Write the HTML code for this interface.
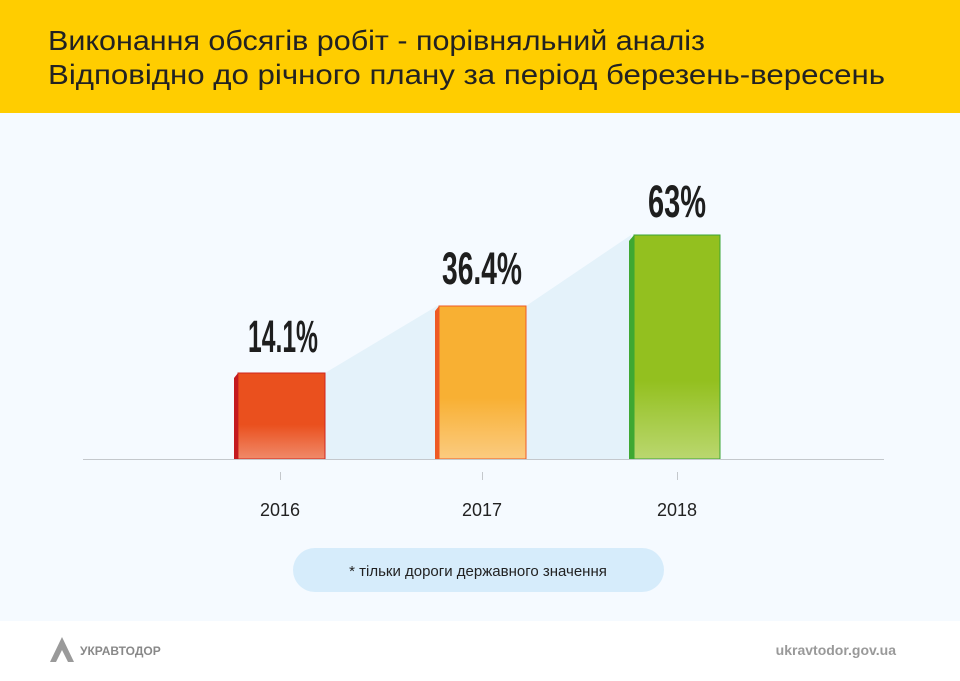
<!DOCTYPE html>
<html><head><meta charset="utf-8"><style>
html,body{margin:0;padding:0;width:960px;height:681px;overflow:hidden;background:#fff}
svg{display:block}
text{font-family:"Liberation Sans",sans-serif}
</style></head><body>
<svg width="960" height="681" viewBox="0 0 960 681" xmlns="http://www.w3.org/2000/svg">
<defs>
<linearGradient id="g1" x1="0" y1="0" x2="0" y2="1"><stop offset="0.6" stop-color="#ea501e"/><stop offset="1" stop-color="#f08a6a"/></linearGradient>
<linearGradient id="g2" x1="0" y1="0" x2="0" y2="1"><stop offset="0.6" stop-color="#f8b033"/><stop offset="1" stop-color="#fbcb80"/></linearGradient>
<linearGradient id="g3" x1="0" y1="0" x2="0" y2="1"><stop offset="0.65" stop-color="#93c01f"/><stop offset="1" stop-color="#bad76f"/></linearGradient>
</defs>
<rect x="0" y="0" width="960" height="113" fill="#ffcd00"/>
<rect x="0" y="113" width="960" height="508" fill="#f5faff"/>
<text x="48" y="50" font-size="28" fill="#222" textLength="657" lengthAdjust="spacingAndGlyphs">Виконання обсягів робіт - порівняльний аналіз</text>
<text x="48" y="84" font-size="28" fill="#222" textLength="837" lengthAdjust="spacingAndGlyphs">Відповідно до річного плану за період березень-вересень</text>
<polygon points="325,373 437,306 526,306 631,235 631,459 325,459" fill="#e4f2fa"/>
<rect x="238" y="373" width="87" height="86" fill="url(#g1)" stroke="#d0251e" stroke-width="1"/>
<polygon points="234,378 238,373 238,459 234,459" fill="#c41a1f"/>
<rect x="439" y="306" width="87" height="153" fill="url(#g2)" stroke="#ef5a24" stroke-width="1"/>
<polygon points="435,311 439,306 439,459 435,459" fill="#ee5a24"/>
<rect x="634" y="235" width="86" height="224" fill="url(#g3)" stroke="#3aa535" stroke-width="1"/>
<polygon points="629,241 634,235 634,459 629,459" fill="#3ea832"/>
<line x1="83" y1="459.5" x2="884" y2="459.5" stroke="#c4c8cc" stroke-width="1"/>
<line x1="280.5" y1="472" x2="280.5" y2="480" stroke="#c4c8cc"/>
<line x1="482.5" y1="472" x2="482.5" y2="480" stroke="#c4c8cc"/>
<line x1="677.5" y1="472" x2="677.5" y2="480" stroke="#c4c8cc"/>
<g font-weight="bold" font-size="45" fill="#1e1e1e">
<text x="248" y="352" textLength="70" lengthAdjust="spacingAndGlyphs">14.1%</text>
<text x="442" y="284" textLength="80" lengthAdjust="spacingAndGlyphs">36.4%</text>
<text x="648" y="217" textLength="58" lengthAdjust="spacingAndGlyphs">63%</text>
</g>
<g font-size="18" fill="#222" text-anchor="middle">
<text x="280" y="516">2016</text>
<text x="482" y="516">2017</text>
<text x="677" y="516">2018</text>
</g>
<rect x="293" y="548" width="371" height="44" rx="22" fill="#d6ecfb"/>
<text x="478" y="576" font-size="15" fill="#222" text-anchor="middle">* тільки дороги державного значення</text>
<polygon points="50,662 62,637 74,662 68,662 62,650 56,662" fill="#9a9a9a"/>
<text x="80" y="655" font-size="12" font-weight="bold" fill="#888">УКРАВТОДОР</text>
<text x="896" y="655" font-size="14" font-weight="bold" fill="#999" text-anchor="end">ukravtodor.gov.ua</text>
</svg>
</body></html>
